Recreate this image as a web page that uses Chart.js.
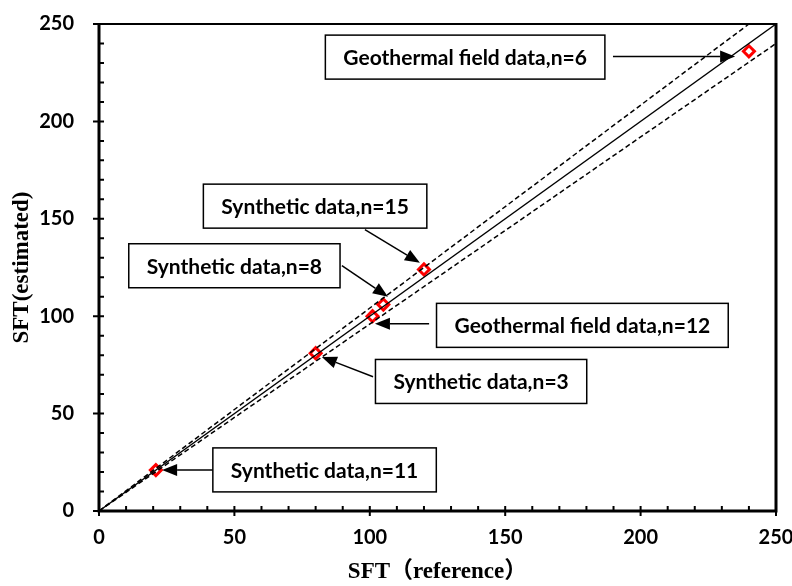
<!DOCTYPE html>
<html>
<head>
<meta charset="utf-8">
<script src="https://cdn.jsdelivr.net/npm/chart.js@4"></script>
<style>
  html, body { margin: 0; padding: 0; background: #fff; }
  #wrap { width: 792px; height: 586px; }
</style>
</head>
<body>
<div id="wrap"><canvas id="sft"></canvas></div>
<script>
// values
const sampleNames = [
  "Synthetic data,n=11",
  "Synthetic data,n=3",
  "Geothermal field data,n=12",
  "Synthetic data,n=8",
  "Synthetic data,n=15",
  "Geothermal field data,n=6"
];
const sftReference = [21, 80, 101, 105, 120, 240];
const sftEstimated = [21, 81, 100, 106, 124, 236];

// 1:1 line and the two dashed bounds
const oneToOneX = [0, 250];
const oneToOneY = [0, 250];
const upperX = [0, 240];
const upperY = [0, 250];
const lowerX = [0, 250];
const lowerY = [0, 240];

// where each label box sits (data units), tail and tip of its arrow
const calloutLayout = [
  { cx: 83.3, cy: 21.1, tail: [43.6, 21.1], tip: [23.3, 21.1] },
  { cx: 141.1, cy: 66.5, tail: [101.2, 68.9], tip: [82.3, 79.1] },
  { cx: 178.5, cy: 95.3, tail: [121.9, 96.1], tip: [101.9, 96.1] },
  { cx: 50.0, cy: 125.9, tail: [89.7, 125.9], tip: [106.7, 110.0] },
  { cx: 79.8, cy: 156.5, tail: [98.2, 144.4], tip: [118.5, 127.4] },
  { cx: 135.2, cy: 233.0, tail: [189.8, 233.3], tip: [234.9, 233.3] }
];

function toPoints(xs, ys) {
  return xs.map((x, i) => ({ x: x, y: ys[i] }));
}

const boxFont = 'bold 21px Lato, "Open Sans", sans-serif';

// frame with inside minor ticks and crossing major ticks
const framePlugin = {
  id: "frame",
  afterDatasetsDraw(chart) {
    const ctx = chart.ctx;
    const a = chart.chartArea;
    const xs = chart.scales.x;
    const ys = chart.scales.y;
    ctx.save();
    ctx.strokeStyle = "#000";
    ctx.lineCap = "butt";

    ctx.lineWidth = 2;
    for (let v = 0; v <= 250; v += 10) {
      const px = xs.getPixelForValue(v);
      const py = ys.getPixelForValue(v);
      const major = v % 50 === 0;
      ctx.beginPath();
      ctx.moveTo(px, a.bottom + (major ? 5 : 0));
      ctx.lineTo(px, a.bottom - 5);
      ctx.moveTo(a.left - (major ? 6 : 0), py);
      ctx.lineTo(a.left + 5, py);
      ctx.stroke();
    }

    ctx.lineWidth = 2;
    ctx.beginPath();
    ctx.moveTo(a.left, a.top);
    ctx.lineTo(a.right, a.top);
    ctx.stroke();
    ctx.lineWidth = 3;
    ctx.beginPath();
    ctx.moveTo(a.right, a.top - 1);
    ctx.lineTo(a.right, a.bottom);
    ctx.moveTo(a.left, a.top - 1);
    ctx.lineTo(a.left, a.bottom + 1.5);
    ctx.moveTo(a.left - 1.5, a.bottom);
    ctx.lineTo(a.right + 1.5, a.bottom);
    ctx.stroke();
    ctx.restore();
  }
};

function drawArrow(ctx, x1, y1, x2, y2) {
  const ang = Math.atan2(y2 - y1, x2 - x1);
  const headLen = 15;
  const headHalf = 6;
  const bx = x2 - headLen * Math.cos(ang);
  const by = y2 - headLen * Math.sin(ang);
  ctx.beginPath();
  ctx.moveTo(x1, y1);
  ctx.lineTo(bx, by);
  ctx.stroke();
  ctx.beginPath();
  ctx.moveTo(x2, y2);
  ctx.lineTo(bx + headHalf * Math.sin(ang), by - headHalf * Math.cos(ang));
  ctx.lineTo(bx - headHalf * Math.sin(ang), by + headHalf * Math.cos(ang));
  ctx.closePath();
  ctx.fill();
}

const calloutPlugin = {
  id: "callouts",
  afterDraw(chart) {
    const ctx = chart.ctx;
    const xs = chart.scales.x;
    const ys = chart.scales.y;
    ctx.save();
    ctx.font = boxFont;
    ctx.strokeStyle = "#000";
    ctx.fillStyle = "#000";
    ctx.lineWidth = 1.5;
    for (let i = 0; i < sampleNames.length; i++) {
      const c = calloutLayout[i];
      const tx = xs.getPixelForValue(c.tail[0]);
      const ty = ys.getPixelForValue(c.tail[1]);
      const hx = xs.getPixelForValue(c.tip[0]);
      const hy = ys.getPixelForValue(c.tip[1]);
      drawArrow(ctx, tx, ty, hx, hy);

      const cx = xs.getPixelForValue(c.cx);
      const cy = ys.getPixelForValue(c.cy);
      const w = ctx.measureText(sampleNames[i]).width + 36;
      const h = 44;
      ctx.fillStyle = "#fff";
      ctx.fillRect(cx - w / 2, cy - h / 2, w, h);
      ctx.strokeRect(cx - w / 2, cy - h / 2, w, h);
      ctx.fillStyle = "#000";
      ctx.textAlign = "center";
      ctx.textBaseline = "middle";
      ctx.fillText(sampleNames[i], cx, cy + 1);
    }
    ctx.restore();
  }
};

const tickFont = { family: 'Lato, "Open Sans", sans-serif', size: 20, weight: "bold" };
const titleFont = { family: '"Liberation Serif", "Noto Sans CJK SC", serif', size: 23, weight: "bold" };

new Chart(document.getElementById("sft"), {
  type: "scatter",
  data: {
    datasets: [
      {
        label: "1:1",
        data: toPoints(oneToOneX, oneToOneY),
        showLine: true,
        borderColor: "#000",
        borderWidth: 1.5,
        pointRadius: 0
      },
      {
        label: "upper",
        data: toPoints(upperX, upperY),
        showLine: true,
        borderColor: "#000",
        borderWidth: 1.5,
        borderDash: [5, 3],
        pointRadius: 0
      },
      {
        label: "lower",
        data: toPoints(lowerX, lowerY),
        showLine: true,
        borderColor: "#000",
        borderWidth: 1.5,
        borderDash: [5, 3],
        pointRadius: 0
      },
      {
        label: "SFT",
        data: toPoints(sftReference, sftEstimated),
        pointStyle: "rectRot",
        pointRadius: 5.5,
        borderColor: "#ff0000",
        backgroundColor: "#fff",
        pointBorderWidth: 3
      }
    ]
  },
  options: {
    responsive: true,
    maintainAspectRatio: false,
    animation: false,
    clip: false,
    layout: { autoPadding: false, padding: { top: 24, right: 16, left: 0, bottom: 0 } },
    plugins: {
      legend: { display: false },
      tooltip: { enabled: false }
    },
    scales: {
      x: {
        type: "linear",
        min: 0,
        max: 250,
        border: { display: false },
        grid: { display: false, drawTicks: false },
        ticks: { stepSize: 50, color: "#000", font: tickFont, padding: 15, maxRotation: 0 },
        title: { display: true, text: "SFT（reference）", color: "#000", font: titleFont, padding: { top: 0, bottom: 0 } },
        afterFit(scale) {
          scale.height = 75;
          scale.paddingLeft = 0;
          scale.paddingRight = 0;
        }
      },
      y: {
        type: "linear",
        min: 0,
        max: 250,
        border: { display: false },
        grid: { display: false, drawTicks: false },
        ticks: { stepSize: 50, color: "#000", font: tickFont, padding: 25 },
        title: { display: true, text: "SFT(estimated)", color: "#000", font: titleFont, padding: { top: 8, bottom: 0 } },
        afterFit(scale) {
          scale.width = 99;
          scale.paddingTop = 0;
          scale.paddingBottom = 0;
        }
      }
    }
  },
  plugins: [framePlugin, calloutPlugin]
});
</script>
</body>
</html>
